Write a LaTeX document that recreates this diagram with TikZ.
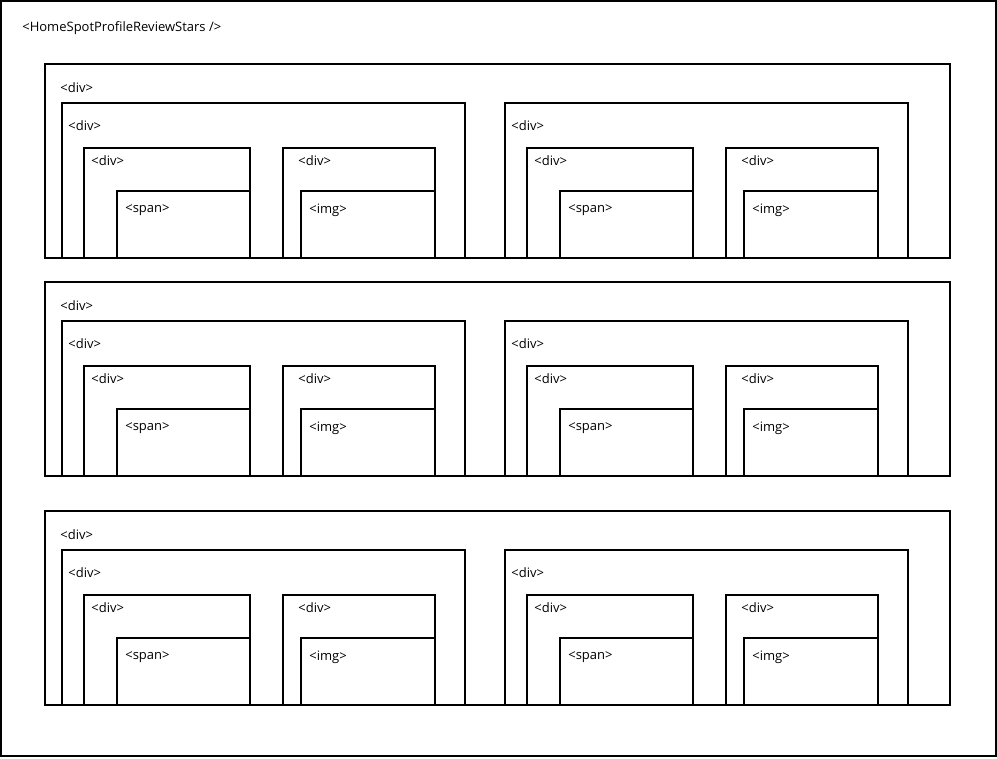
\documentclass[tikz,border=0pt]{standalone}
\usepackage{fontspec}
\setmainfont{Open Sans}
\usetikzlibrary{positioning}

\tikzset{
  box/.style={draw, line width=1.1pt},
  tag/.style={anchor=west, inner sep=0pt, font=\fontsize{7.4}{8}\selectfont},
}

\begin{document}
\begin{tikzpicture}[x=0.02cm, y=-0.02cm]
\useasboundingbox (0,0) rectangle (997,758);
% component frame
\draw[box] (1,1) rectangle (996,756);
\node[tag] (title) at (22,28) {<HomeSpotProfileReviewStars />};
% one row per review line
\foreach \dy [count=\r] in {0,218,447} {
  \draw[box] (45,64+\dy) rectangle (950,258+\dy);
  \node[tag] (row\r) at (60,88+\dy) {<div>};
  \foreach \dx [count=\h] in {0,443} {
    \draw[box] (62+\dx,103+\dy) rectangle (465+\dx,258+\dy);
    \node[tag] (cell\r\h) at (68+\dx,126+\dy) {<div>};
    \draw[box] (84+\dx,148+\dy) rectangle (250+\dx,258+\dy);
    \node[tag] (txt\r\h) at (91+\dx,161+\dy) {<div>};
    \draw[box] (117+\dx,191+\dy) rectangle (250+\dx,258+\dy);
    \node[tag] (span\r\h) at (125+\dx,210+\dy) {<span>};
    \draw[box] (283+\dx,148+\dy) rectangle (435+\dx,258+\dy);
    \node[tag] (pic\r\h) at (298+\dx,161+\dy) {<div>};
    \draw[box] (301+\dx,191+\dy) rectangle (435+\dx,258+\dy);
    \node[tag] (img\r\h) at (309+\dx,210+\dy) {<img>};
  }
}
\end{tikzpicture}
\end{document}
